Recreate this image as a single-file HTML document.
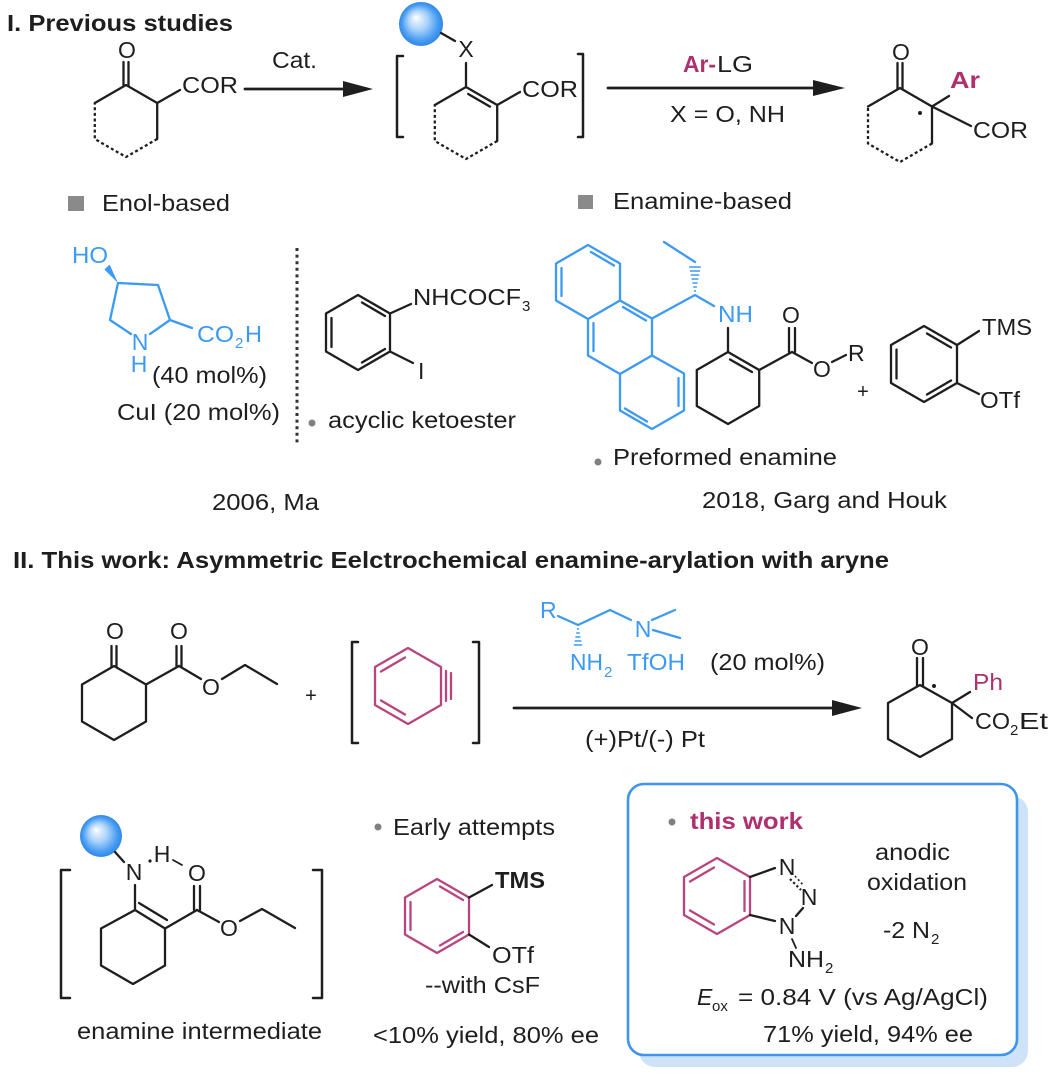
<!DOCTYPE html>
<html><head><meta charset="utf-8">
<style>
html,body{margin:0;padding:0;background:#fff;}
svg{display:block;}
text{font-family:"Liberation Sans",Arial,sans-serif;font-size:23px;fill:#1e1e1e;}
.b{font-weight:bold;}
.bl{fill:#3d9af2;}
.mg{fill:#b0306f;}
.a{text-anchor:middle;}
.s{font-size:15px;}
.k{stroke:#1e1e1e;stroke-width:2.3;fill:none;stroke-linecap:round;stroke-linejoin:round;}
.kb{stroke:#3d9af2;}
.km{stroke:#b8457f;}
.d{stroke-dasharray:3 2.6;stroke-linecap:butt;}
.h{stroke-width:1.6;stroke-linecap:butt;}
</style></head>
<body>
<svg width="1062" height="1084" viewBox="0 0 1062 1084" xmlns="http://www.w3.org/2000/svg">
<defs>
<radialGradient id="ball" cx="0.5" cy="0.5" r="0.5" fx="0.38" fy="0.35">
<stop offset="0" stop-color="#ffffff"/>
<stop offset="0.45" stop-color="#a9d1fa"/>
<stop offset="0.8" stop-color="#4a9ff3"/>
<stop offset="1" stop-color="#2f86e6"/>
</radialGradient>
</defs>

<!-- ===== Section I ===== -->
<text class="b" x="7" y="31" textLength="226" lengthAdjust="spacingAndGlyphs">I. Previous studies</text>

<!-- structure 1 -->
<path class="k" d="M94.8,103 L126,85 L157.2,103 L157.2,139"/>
<path class="k d" d="M157.2,139 L126,157 L94.8,139 L94.8,103"/>
<path class="k" d="M123.5,62 V86 M128.5,62 V86"/>
<text class="a" x="127" y="58">O</text>
<path class="k" d="M157.2,103 L180,90"/>
<text x="182" y="93" textLength="56" lengthAdjust="spacingAndGlyphs">COR</text>

<!-- arrow 1 -->
<path class="k" d="M245,89 H346" style="stroke-width:2.8"/>
<polygon points="343,81 373,89 343,97" fill="#1e1e1e"/>
<text x="272" y="68" textLength="45" lengthAdjust="spacingAndGlyphs">Cat.</text>

<!-- intermediate -->
<path class="k" d="M403,56 H397 V137 H403" style="stroke-width:2.5"/>
<path class="k" d="M578,54 H583 V137 H578" style="stroke-width:2.5"/>
<circle cx="421" cy="24" r="22" fill="url(#ball)"/>
<path class="k" d="M441,33 L455,41"/>
<text class="a" x="466" y="57">X</text>
<path class="k" d="M466,63 V87"/>
<path class="k" d="M434.8,105 L466,87 L497.2,105 L497.2,141"/>
<path class="k" d="M468.2,94 L490,106.6"/>
<path class="k d" d="M497.2,141 L466,159 L434.8,141 L434.8,105"/>
<path class="k" d="M497.2,105 L520,92"/>
<text x="522" y="97" textLength="56" lengthAdjust="spacingAndGlyphs">COR</text>

<!-- arrow 2 -->
<path class="k" d="M608,88 H816" style="stroke-width:2.8"/>
<polygon points="813,80 845,88 813,96" fill="#1e1e1e"/>
<text class="b mg" x="683" y="72" textLength="33" lengthAdjust="spacingAndGlyphs">Ar-</text>
<text x="717" y="72" textLength="36" lengthAdjust="spacingAndGlyphs">LG</text>
<text x="670" y="122" textLength="115" lengthAdjust="spacingAndGlyphs">X = O, NH</text>

<!-- product 1 -->
<path class="k" d="M868,106.5 L900,88 L932,106.5 L932,143.5"/>
<path class="k d" d="M932,143.5 L900,162 L868,143.5 L868,106.5"/>
<path class="k" d="M897.5,63 V89 M902.5,63 V89"/>
<text class="a" x="901" y="60">O</text>
<circle cx="920" cy="113" r="2" fill="#1e1e1e"/>
<path class="k" d="M932,106.5 L949,96"/>
<text class="b mg" x="950" y="88" textLength="30" lengthAdjust="spacingAndGlyphs">Ar</text>
<path class="k" d="M932,106.5 L971,126"/>
<text x="973" y="138" textLength="55" lengthAdjust="spacingAndGlyphs">COR</text>

<!-- labels -->
<rect x="68" y="196" width="16" height="15" fill="#8a8a8a"/>
<text x="102" y="211" textLength="128" lengthAdjust="spacingAndGlyphs">Enol-based</text>
<rect x="578" y="195" width="15" height="14" fill="#8a8a8a"/>
<text x="613" y="209" textLength="179" lengthAdjust="spacingAndGlyphs">Enamine-based</text>

<!-- hydroxyproline (blue) -->
<polygon points="118,283 109.6,264.5 104.4,269.5" fill="#3d9af2"/>
<text class="bl" x="72" y="263" textLength="36" lengthAdjust="spacingAndGlyphs">HO</text>
<path class="k kb" d="M131,334 L110,320 L118,283 L158,285 L170,320 L150,334"/>
<path class="k kb" d="M170,320 L192,328"/>
<text class="bl a" x="140" y="350">N</text>
<text class="bl a" x="139" y="372">H</text>
<text class="bl" x="197" y="342" textLength="37" lengthAdjust="spacingAndGlyphs">CO</text>
<text class="bl s" x="235" y="348">2</text>
<text class="bl" x="245" y="342" textLength="17" lengthAdjust="spacingAndGlyphs">H</text>
<text x="152" y="383" textLength="115" lengthAdjust="spacingAndGlyphs">(40 mol%)</text>
<text x="117" y="420" textLength="163" lengthAdjust="spacingAndGlyphs">CuI (20 mol%)</text>

<!-- dotted divider -->
<path d="M297,248 V446" stroke="#333" stroke-width="3" stroke-dasharray="3 3.6" fill="none"/>

<!-- 2-iodo anilide -->
<path class="k" d="M358,295 L390,313.5 L390,351.5 L358,370 L326,351.5 L326,313.5 Z"/>
<path class="k" d="M331.5,318 V347 M362,302.5 L385,316 M385,349 L362,362.5"/>
<path class="k" d="M390,313.5 L411,304"/>
<text x="413" y="305" textLength="108" lengthAdjust="spacingAndGlyphs">NHCOCF</text>
<text class="s" x="522" y="311">3</text>
<path class="k" d="M390,351.5 L413,363"/>
<text x="418" y="379">I</text>
<circle cx="312" cy="423" r="3.5" fill="#808080"/>
<text x="328" y="428" textLength="188" lengthAdjust="spacingAndGlyphs">acyclic ketoester</text>
<text x="212" y="510" textLength="107" lengthAdjust="spacingAndGlyphs">2006, Ma</text>

<!-- Garg: anthracene (blue) -->
<g class="k kb">
<path d="M588,245 L620,263.5 L620,300.5 L588,319 L556,300.5 L556,263.5 Z"/>
<path d="M620,300.5 L652,318.5 L652,355.5 L620,374 L588,355.5 L588,319"/>
<path d="M652,355.5 L684,373.5 L684,410.5 L652,429 L620,410.5 L620,374"/>
<path d="M561.5,268 V296 M591,252 L614,265.5 M593.5,323 V351 M623,307 L646,320.5 M678.5,378 V406 M647,421.5 L625,408.5"/>
<path d="M652,318.5 L695,295 L714,306"/>
<path d="M695,262 L664,242"/>
</g>
<g stroke="#3d9af2" class="h">
<path d="M694,291 H696 M693.2,287 H696.8 M692.4,283 H697.6 M691.6,279 H698.4 M690.8,275 H699.2 M690,271 H700 M689.2,267 H700.8"/>
</g>
<text class="bl" x="718" y="322" textLength="35" lengthAdjust="spacingAndGlyphs">NH</text>
<!-- enamine ring -->
<path class="k" d="M728,328 V352"/>
<path class="k" d="M696.8,370 L728,352 L759.2,370 L759.2,406 L728,424 L696.8,406 Z"/>
<path class="k" d="M730,359.5 L752,372"/>
<path class="k" d="M759.2,370 L792,352"/>
<path class="k" d="M789,328 V352 M795,328 V352"/>
<text class="a" x="791" y="323">O</text>
<path class="k" d="M792,352 L812,363"/>
<text class="a" x="822" y="377">O</text>
<path class="k" d="M832,362 L846,355"/>
<text x="848" y="361">R</text>
<text class="a" x="863" y="398" style="font-size:20px">+</text>
<!-- TMS/OTf benzene -->
<path class="k" d="M924,326 L957,345 L957,383 L924,402 L891,383 L891,345 Z"/>
<path class="k" d="M896.5,349.5 V378.5 M927,333.5 L951,347.5 M951,380.5 L927,394.5"/>
<path class="k" d="M957,345 L979,331"/>
<text x="982" y="335" textLength="50" lengthAdjust="spacingAndGlyphs">TMS</text>
<path class="k" d="M957,383 L979,394"/>
<text x="980" y="408" textLength="40" lengthAdjust="spacingAndGlyphs">OTf</text>
<circle cx="598" cy="462" r="3.5" fill="#808080"/>
<text x="613" y="465" textLength="224" lengthAdjust="spacingAndGlyphs">Preformed enamine</text>
<text x="702" y="508" textLength="245" lengthAdjust="spacingAndGlyphs">2018, Garg and Houk</text>

<!-- ===== Section II ===== -->
<text class="b" x="13" y="568" textLength="876" lengthAdjust="spacingAndGlyphs">II. This work: Asymmetric Eelctrochemical enamine-arylation with aryne</text>

<!-- keto ester -->
<path class="k" d="M114,666 L146,684.5 L146,721.5 L114,740 L82,721.5 L82,684.5 Z"/>
<path class="k" d="M111.5,646 V667 M116.5,646 V667"/>
<text class="a" x="115" y="639">O</text>
<path class="k" d="M146,684.5 L179,666"/>
<path class="k" d="M176.5,646 V667 M181.5,646 V667"/>
<text class="a" x="179" y="639">O</text>
<path class="k" d="M179,666 L201,679"/>
<text class="a" x="211" y="695">O</text>
<path class="k" d="M222,679 L245,665 L277,684"/>
<text class="a" x="311" y="702" style="font-size:20px">+</text>

<!-- benzyne -->
<path class="k" d="M358,642 H352 V743 H358" style="stroke-width:2.5"/>
<path class="k" d="M473,642 H479 V743 H473" style="stroke-width:2.5"/>
<g class="k km">
<path d="M408,648 L441,667 L441,705 L408,724 L375,705 L375,667 Z"/>
<path d="M381,671.5 L405,657.5 M381,700.5 L405,714.5"/>
<path d="M446,671 V701 M451,673 V699"/>
</g>

<!-- arrow II -->
<path class="k" d="M514,708 H834" style="stroke-width:2.8"/>
<polygon points="832,700 862,708 832,716" fill="#1e1e1e"/>

<!-- catalyst -->
<text class="bl" x="540" y="618">R</text>
<path class="k kb" d="M558,616 L578,625 L610,610 L631,620"/>
<text class="bl a" x="643" y="637">N</text>
<path class="k kb" d="M652,620 L675,610 M653,630 L680,638"/>
<g stroke="#3d9af2" class="h">
<path d="M577,629 H579 M576.2,633 H579.8 M575.4,637 H580.6 M574.6,641 H581.4 M573.8,645 H582.2"/>
</g>
<text class="bl" x="570" y="670" textLength="33" lengthAdjust="spacingAndGlyphs">NH</text>
<text class="bl s" x="604" y="677">2</text>
<text class="bl" x="627" y="670" textLength="58" lengthAdjust="spacingAndGlyphs">TfOH</text>
<text x="710" y="670" textLength="115" lengthAdjust="spacingAndGlyphs">(20 mol%)</text>
<text x="585" y="747" textLength="120" lengthAdjust="spacingAndGlyphs">(+)Pt/(-) Pt</text>

<!-- product II -->
<path class="k" d="M920,685 L952,703 L952,739 L920,757 L888,739 L888,703 Z"/>
<path class="k" d="M917,658 V686 M923,658 V686"/>
<text class="a" x="920" y="655">O</text>
<circle cx="934" cy="686" r="2" fill="#1e1e1e"/>
<path class="k" d="M952,703 L970,692"/>
<text class="mg" x="973" y="690" textLength="30" lengthAdjust="spacingAndGlyphs">Ph</text>
<path class="k" d="M952,703 L972,718"/>
<text x="975" y="729" textLength="35" lengthAdjust="spacingAndGlyphs">CO</text>
<text class="s" x="1010" y="735">2</text>
<text x="1019" y="729" textLength="29" lengthAdjust="spacingAndGlyphs">Et</text>

<!-- enamine intermediate -->
<path class="k" d="M70,870 H61 V998 H70" style="stroke-width:2.5"/>
<path class="k" d="M313,870 H322 V998 H313" style="stroke-width:2.5"/>
<circle cx="101" cy="836" r="21" fill="url(#ball)"/>
<path class="k" d="M115,852 L124,862"/>
<text class="a" x="134" y="880">N</text>
<circle cx="150" cy="861" r="1.6" fill="#1e1e1e"/>
<text class="a" x="162" y="862">H</text>
<path class="k" d="M173,860 L182,865" style="stroke-width:1.8"/>
<text class="a" x="197" y="881">O</text>
<path class="k" d="M135,885 V910"/>
<path class="k" d="M135,910 L165,928.5 L165,965.5 L133,984 L101,965.5 L101,928.5 Z"/>
<path class="k" d="M139,903 L167,920"/>
<path class="k" d="M165,928.5 L197,910"/>
<path class="k" d="M194,886 V910 M200,886 V910"/>
<path class="k" d="M197,910 L219,922"/>
<text class="a" x="229" y="936">O</text>
<path class="k" d="M240,921 L262,909 L295,928"/>
<text x="77" y="1039" textLength="245" lengthAdjust="spacingAndGlyphs">enamine intermediate</text>

<!-- early attempts -->
<circle cx="378" cy="827" r="3.5" fill="#808080"/>
<text x="393" y="835" textLength="162" lengthAdjust="spacingAndGlyphs">Early attempts</text>
<g class="k km">
<path d="M437,879 L469,897.5 L469,934.5 L437,953 L405,934.5 L405,897.5 Z"/>
<path d="M410.5,902 V930 M440,886.5 L463,900 M463,932 L440,945.5"/>
</g>
<path class="k" d="M469,897.5 L492,885"/>
<text class="b" x="495" y="888" textLength="50" lengthAdjust="spacingAndGlyphs">TMS</text>
<path class="k" d="M469,934.5 L489,947"/>
<text x="492" y="963" textLength="42" lengthAdjust="spacingAndGlyphs">OTf</text>
<text x="425" y="993" textLength="115" lengthAdjust="spacingAndGlyphs">--with CsF</text>
<text x="373" y="1043" textLength="226" lengthAdjust="spacingAndGlyphs">&lt;10% yield, 80% ee</text>

<!-- this work box -->
<rect x="639" y="796" width="389" height="271" rx="16" fill="#cfe3f8"/>
<rect x="628" y="784" width="389" height="271" rx="16" fill="#ffffff" stroke="#3f95ee" stroke-width="2.6"/>
<circle cx="672" cy="822" r="3.5" fill="#808080"/>
<text class="b mg" x="690" y="829" textLength="113" lengthAdjust="spacingAndGlyphs">this work</text>
<g class="k km">
<path d="M717,858 L750,877 L750,915 L717,934 L684,915 L684,877 Z"/>
<path d="M690,881.5 L714,867.5 M744.5,881 V911 M690,910.5 L714,924.5"/>
</g>
<path class="k" d="M750,877 L775,868"/>
<text class="a" x="787" y="875">N</text>
<path d="M790,879 L801,890" stroke="#1e1e1e" stroke-width="2.2" stroke-dasharray="2.2 2.4" fill="none"/>
<path d="M795,876 L804,886" stroke="#1e1e1e" stroke-width="1.6" stroke-dasharray="2 2.5" fill="none"/>
<text class="a" x="809" y="905">N</text>
<path class="k" d="M803,908 L796,916"/>
<text class="a" x="787" y="934">N</text>
<path class="k" d="M750,915 L775,921"/>
<path class="k" d="M792,939 L796,948" style="stroke-width:1.8"/>
<text x="788" y="967" textLength="36" lengthAdjust="spacingAndGlyphs">NH</text>
<text class="s" x="825" y="973">2</text>
<text x="875" y="860" textLength="75" lengthAdjust="spacingAndGlyphs">anodic</text>
<text x="867" y="890" textLength="100" lengthAdjust="spacingAndGlyphs">oxidation</text>
<text x="883" y="938" textLength="47" lengthAdjust="spacingAndGlyphs">-2 N</text>
<text class="s" x="931" y="944">2</text>
<text x="697" y="1005" style="font-style:italic">E</text>
<text class="s" x="712" y="1011">ox</text>
<text x="738" y="1005" textLength="250" lengthAdjust="spacingAndGlyphs">= 0.84 V (vs Ag/AgCl)</text>
<text x="763" y="1042" textLength="210" lengthAdjust="spacingAndGlyphs">71% yield, 94% ee</text>
</svg>
</body></html>
